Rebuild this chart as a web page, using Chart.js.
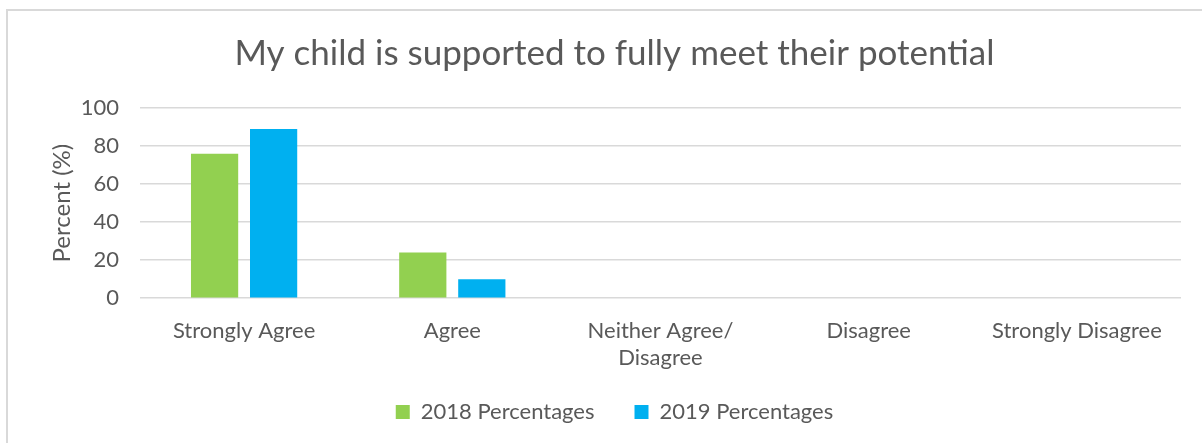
<!DOCTYPE html>
<html>
<head>
<meta charset="utf-8">
<script src="https://cdn.jsdelivr.net/npm/chart.js@4"></script>
<style>
  body { margin: 0; background: #fff; overflow: hidden; }
  #box {
    position: absolute; left: 6px; top: 9px; width: 1200px; height: 480px;
    border-left: 2px solid #d9d9d9; border-top: 2px solid #d9d9d9;
  }
  #wrap { position: absolute; left: 0; top: 0; width: 1194px; height: 460px; }
</style>
</head>
<body>
<div id="box"><div id="wrap"><canvas id="myChart"></canvas></div></div>
<script>
let categories = ['Strongly Agree', 'Agree', ['Neither Agree/', 'Disagree'], 'Disagree', 'Strongly Disagree'];
let values2018 = [76, 24, 0, 0, 0];
let values2019 = [89, 10, 0, 0, 0];
let yTicks = [0, 20, 40, 60, 80, 100];

let grey = '#595959';
let font = "Lato, 'Open Sans', sans-serif";

// nudge the legend up, keeping the wide gap between items
let legendShift = {
    id: 'legendShift',
    afterLayout(chart) {
        chart.legend.top -= 30;
        chart.legend.bottom -= 30;
    }
};

let ctx = document.getElementById('myChart').getContext('2d');
let chart = new Chart(ctx, {
    type: 'bar',
    data: {
        labels: categories,
        datasets: [{
            label: '2018 Percentages',
            data: values2018,
            backgroundColor: '#92d050',
            categoryPercentage: 0.567,
            barPercentage: 0.8
        }, {
            label: '2019 Percentages',
            data: values2019,
            backgroundColor: '#00b0f0',
            categoryPercentage: 0.567,
            barPercentage: 0.8
        }]
    },
    plugins: [legendShift],
    options: {
        responsive: true,
        maintainAspectRatio: false,
        animation: false,
        layout: { padding: { left: 40, right: 21, top: 22, bottom: 8 } },
        plugins: {
            title: {
                display: true,
                text: 'My child is supported to fully meet their potential',
                color: grey,
                font: { family: font, size: 35, weight: 'normal' },
                padding: { top: 0, bottom: 33 }
            },
            legend: {
                position: 'bottom',
                labels: {
                    color: grey,
                    font: { family: font, size: 22 },
                    boxWidth: 14,
                    boxHeight: 14,
                    padding: 40
                }
            },
            tooltip: { enabled: false }
        },
        scales: {
            x: {
                grid: { display: false, drawTicks: false },
                border: { display: false },
                ticks: {
                    color: grey,
                    font: { family: font, size: 22 },
                    padding: 20,
                    maxRotation: 0
                }
            },
            y: {
                min: 0,
                max: 100,
                afterBuildTicks: scale => { scale.ticks = yTicks.map(v => ({ value: v })); },
                afterFit: scale => { scale.width = 92; },
                grid: { color: '#d9d9d9', lineWidth: 1.5, drawTicks: false },
                border: { display: false },
                ticks: {
                    color: grey,
                    font: { family: font, size: 22 },
                    padding: 21
                },
                title: {
                    display: true,
                    text: 'Percent (%)',
                    color: grey,
                    font: { family: font, size: 24 },
                    padding: 0
                }
            }
        }
    }
});
</script>
</body>
</html>
